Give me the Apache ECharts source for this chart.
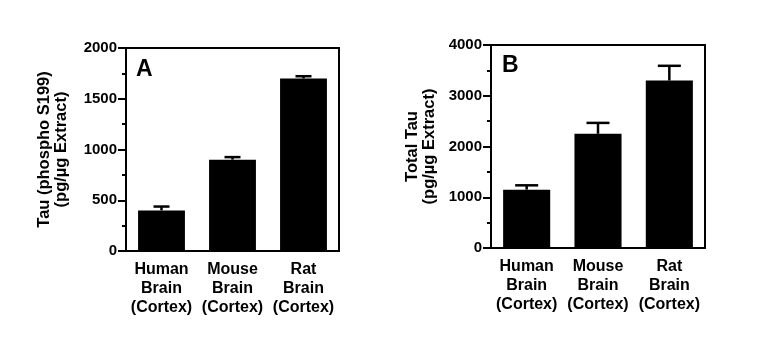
<!DOCTYPE html>
<html>
<head>
<meta charset="utf-8">
<style>
  html, body { margin: 0; padding: 0; background: #fff; }
  #chart { width: 768px; height: 346px; }
</style>
<script src="https://cdn.jsdelivr.net/npm/echarts@6/dist/echarts.min.js"></script>
</head>
<body>
<div id="chart"></div>
<script>
// Tau content in brain cortex extracts (mean + error)
const categories = ['Human\nBrain\n(Cortex)', 'Mouse\nBrain\n(Cortex)', 'Rat\nBrain\n(Cortex)'];

// Panel A: phospho S199 tau
const phosphoValues = [400, 900, 1700];
const phosphoErrors = [38, 25, 22];
const phosphoTicks = [0, 500, 1000, 1500, 2000];

// Panel B: total tau
const totalValues = [1150, 2250, 3300];
const totalErrors = [85, 215, 290];
const totalTicks = [0, 1000, 2000, 3000, 4000];

const FONT = 'Liberation Sans';

function errorSeries(gridIdx, values, errors, capW) {
  return {
    type: 'custom',
    xAxisIndex: gridIdx,
    yAxisIndex: gridIdx,
    z: 1,
    data: values.map((v, i) => [i, v, v + errors[i]]),
    renderItem: function (params, api) {
      const base = api.coord([api.value(0), api.value(1)]);
      const top = api.coord([api.value(0), api.value(2)]);
      const x = base[0];
      const style = { stroke: '#000', lineWidth: 2.5 };
      return {
        type: 'group',
        children: [
          { type: 'line', shape: { x1: x, y1: base[1], x2: x, y2: top[1] }, style: style },
          { type: 'line', shape: { x1: x - capW / 2, y1: top[1], x2: x + capW / 2, y2: top[1] }, style: style }
        ]
      };
    }
  };
}

function xAxisFor(gridIdx) {
  return {
    type: 'category',
    gridIndex: gridIdx,
    data: categories,
    boundaryGap: true,
    axisLine: { lineStyle: { color: '#000', width: 2 } },
    axisTick: { alignWithLabel: true, length: 6, lineStyle: { color: '#000', width: 2 } },
    axisLabel: {
      color: '#000', fontFamily: FONT, fontWeight: 'bold', fontSize: 16,
      lineHeight: 19, margin: 9, interval: 0
    }
  };
}

function yAxisFor(gridIdx, ticks, name, gap) {
  const step = ticks[1] - ticks[0];
  return {
    type: 'value',
    gridIndex: gridIdx,
    min: ticks[0],
    max: ticks[ticks.length - 1],
    interval: step,
    name: name,
    nameLocation: 'middle',
    nameRotate: 90,
    nameGap: gap,
    nameTextStyle: {
      color: '#000', fontFamily: FONT, fontWeight: 'bold', fontSize: 16.5, lineHeight: 17
    },
    splitLine: { show: false },
    axisLine: { show: true, lineStyle: { color: '#000', width: 2 } },
    axisTick: { show: true, length: 8, lineStyle: { color: '#000', width: 2 } },
    minorTick: { show: true, splitNumber: 2, length: 4, lineStyle: { color: '#000', width: 2 } },
    minorSplitLine: { show: false },
    axisLabel: {
      color: '#000', fontFamily: FONT, fontWeight: 'bold', fontSize: 15, margin: 9,
      formatter: function (v) { return String(v); }
    }
  };
}

const chart = echarts.init(document.getElementById('chart'), null, { renderer: 'canvas' });

chart.setOption({
  backgroundColor: '#fff',
  animation: false,
  grid: [
    { left: 126, top: 48, width: 213, height: 203, show: true, borderColor: '#000', borderWidth: 2, backgroundColor: 'transparent' },
    { left: 491, top: 45, width: 214, height: 203, show: true, borderColor: '#000', borderWidth: 2, backgroundColor: 'transparent' }
  ],
  xAxis: [xAxisFor(0), xAxisFor(1)],
  yAxis: [
    yAxisFor(0, phosphoTicks, 'Tau (phospho S199)\n(pg/µg Extract)', 56),
    yAxisFor(1, totalTicks, 'Total Tau\n(pg/µg Extract)', 53)
  ],
  graphic: [
    { type: 'text', left: 136, top: 58, style: { text: 'A', fill: '#000', font: 'bold 23px "Liberation Sans"' } },
    { type: 'text', left: 502, top: 54, style: { text: 'B', fill: '#000', font: 'bold 23px "Liberation Sans"' } }
  ],
  series: [
    {
      type: 'bar', xAxisIndex: 0, yAxisIndex: 0, data: phosphoValues,
      barWidth: '66%', itemStyle: { color: '#000' }, z: 2
    },
    errorSeries(0, phosphoValues, phosphoErrors, 16),
    {
      type: 'bar', xAxisIndex: 1, yAxisIndex: 1, data: totalValues,
      barWidth: '66%', itemStyle: { color: '#000' }, z: 2
    },
    errorSeries(1, totalValues, totalErrors, 23)
  ]
});
</script>
</body>
</html>
